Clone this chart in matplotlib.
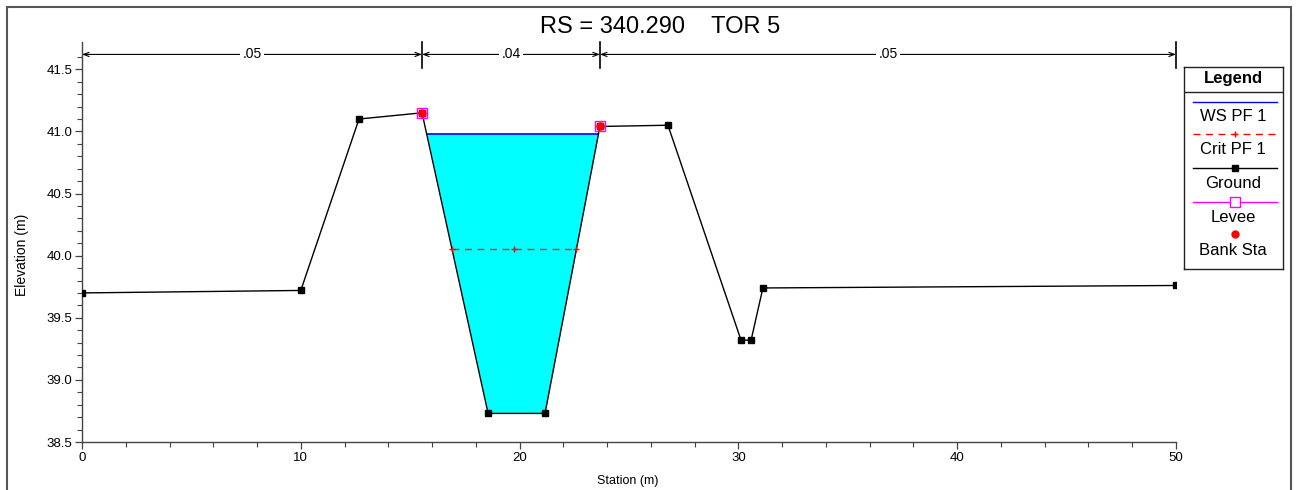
import numpy as np
import matplotlib
matplotlib.use("Agg")
import matplotlib.pyplot as plt
from matplotlib.patches import Rectangle

plt.rcParams['font.family'] = ['Liberation Sans', 'DejaVu Sans']

# ---- data ----
station = [0.0, 10.0, 12.66, 15.54, 18.56, 21.16, 23.67, 26.78, 30.12, 30.58, 31.12, 50.0]
ground = [39.70, 39.72, 41.10, 41.15, 38.73, 38.73, 41.04, 41.05, 39.32, 39.32, 39.74, 39.76]
bank_sta = [15.54, 23.67]
bank_elev = [41.15, 41.04]
levee_sta = [15.54, 23.67]
levee_elev = [41.15, 41.04]
ws_elev = 40.98
crit_elev = 40.05
n_values = ['.05', '.04', '.05']
title = 'RS = 340.290    TOR 5'
legend_labels = ['WS PF 1', 'Crit PF 1', 'Ground', 'Levee', 'Bank Sta']

W, H = 1298, 490
fig = plt.figure(figsize=(W / 100, H / 100), dpi=100)

def fx(px):
    return px / W

def fy(py):
    return 1 - py / H

ax = fig.add_axes([fx(82), fy(442), fx(1176) - fx(82), fy(42) - fy(442)])
ax.set_xlim(0, 50)
ax.set_ylim(38.5, 41.72)

st = np.array(station)
gr = np.array(ground)

def crossings(level):
    """intersections of a horizontal level with ground between bank stations"""
    xs = []
    for i in range(len(st) - 1):
        x0, x1, y0, y1 = st[i], st[i + 1], gr[i], gr[i + 1]
        if x0 < bank_sta[0] - 1e-9 or x1 > bank_sta[1] + 1e-9:
            continue
        if (y0 - level) * (y1 - level) < 0:
            xs.append(x0 + (level - y0) / (y1 - y0) * (x1 - x0))
    return xs

# water fill between banks
mask = (st >= bank_sta[0] - 1e-9) & (st <= bank_sta[1] + 1e-9)
ax.fill_between(st[mask], gr[mask], ws_elev, where=gr[mask] <= ws_elev,
                interpolate=True, color='#00FFFF', lw=0, zorder=1)
wx = crossings(ws_elev)
ax.plot([wx[0], wx[-1]], [ws_elev, ws_elev], color='#0000FF', lw=1.2, zorder=2)

# critical depth
cx = crossings(crit_elev)
ax.plot([cx[0], cx[-1]], [crit_elev, crit_elev], color='#FF0000', lw=1.0,
        ls=(0, (5, 4)), alpha=0.85, zorder=3)
ax.plot([cx[0], (cx[0] + cx[-1]) / 2, cx[-1]], [crit_elev] * 3, ls='none',
        marker='+', color='#FF0000', ms=5, mew=1.0, zorder=5)

# ground
ax.plot(st, gr, color='black', lw=1.0, marker='s', ms=4, zorder=4)

# levee and bank stations
ax.plot(levee_sta, levee_elev, ls='none', marker='s', mfc='none', mec='#FF00FF',
        ms=6.5, mew=1.0, zorder=5)
ax.plot(bank_sta, bank_elev, ls='none', marker='o', color='#FF0000', ms=5, zorder=6)

# Manning's n dimension lines
edges = [0.0] + bank_sta + [50.0]
ydim = 41.62
for i, n in enumerate(n_values):
    a, b = edges[i], edges[i + 1]
    ax.annotate('', xy=(a, ydim), xytext=(b, ydim),
                arrowprops=dict(arrowstyle='<->,head_length=0.4,head_width=0.15',
                                color='black', lw=0.8, shrinkA=0, shrinkB=0),
                annotation_clip=False)
    ax.text((a + b) / 2, ydim, n, ha='center', va='center', fontsize=10,
            bbox=dict(facecolor='white', edgecolor='none', pad=1.5), zorder=7)
for e in edges[1:]:
    ax.plot([e, e], [41.51, 41.72], color='black', lw=1.2, clip_on=False, zorder=7)

# axes styling
for s in ['top', 'right']:
    ax.spines[s].set_visible(False)
for s in ['left', 'bottom']:
    ax.spines[s].set_color('#444444')
    ax.spines[s].set_linewidth(1.0)
ax.set_xticks(np.arange(0, 51, 10))
ax.set_xticks(np.arange(0, 51, 2), minor=True)
ax.set_yticks(np.arange(38.5, 41.51, 0.5))
ax.set_yticks(np.arange(38.5, 41.61, 0.1), minor=True)
ax.set_yticklabels([f'{v:.1f}' for v in np.arange(38.5, 41.51, 0.5)])
ax.tick_params(axis='both', which='major', length=5, width=0.9, color='#444444',
               labelsize=9.5, pad=2)
ax.tick_params(axis='both', which='minor', length=3.5, width=0.8, color='#444444')

fig.text(fx(628), fy(481), 'Station (m)', ha='center', va='center', fontsize=9)
fig.text(fx(22), fy(255), 'Elevation (m)', ha='center', va='center',
         rotation=90, fontsize=10)

# title
fig.text(fx(660), fy(27), title, ha='center', va='center', fontsize=17)

# outer frame
fig.add_artist(Rectangle((fx(7), fy(500)), fx(1291) - fx(7), fy(7) - fy(500),
                         transform=fig.transFigure, fill=False,
                         edgecolor='#555555', lw=1.5))

# legend (drawn manually in pixel coordinates)
lax = fig.add_axes([fx(1184), fy(269), fx(1283) - fx(1184), fy(67) - fy(269)])
lax.set_xlim(1184, 1283)
lax.set_ylim(269, 67)
lax.set_xticks([])
lax.set_yticks([])
for s in lax.spines.values():
    s.set_linewidth(1.0)
    s.set_color('#222222')
lax.axhline(92, color='#222222', lw=1.0)
lax.text(1233, 79, 'Legend', ha='center', va='center', fontsize=12, fontweight='bold')
x0, x1, xm = 1193, 1277, 1235
lax.plot([x0, x1], [102, 102], color='#0000FF', lw=1.0)
lax.plot([x0, x1], [134, 134], color='#FF0000', lw=1.0, ls=(0, (5, 4)))
lax.plot([xm], [134], marker='+', color='#FF0000', ms=5)
lax.plot([x0, x1], [168, 168], color='black', lw=1.0)
lax.plot([xm], [168], marker='s', color='black', ms=4)
lax.plot([x0, x1], [202.5, 202.5], color='#FF00FF', lw=1.0)
lax.plot([xm], [202.5], marker='s', mfc='white', mec='#FF00FF', ms=6.5, mew=1.0)
lax.plot([xm], [234], marker='o', color='#FF0000', ms=5)
for yy, lab in zip([117, 150, 183.5, 217, 250.5], legend_labels):
    lax.text(1233, yy, lab, ha='center', va='center', fontsize=12)

fig.savefig('out.png', dpi=100)
